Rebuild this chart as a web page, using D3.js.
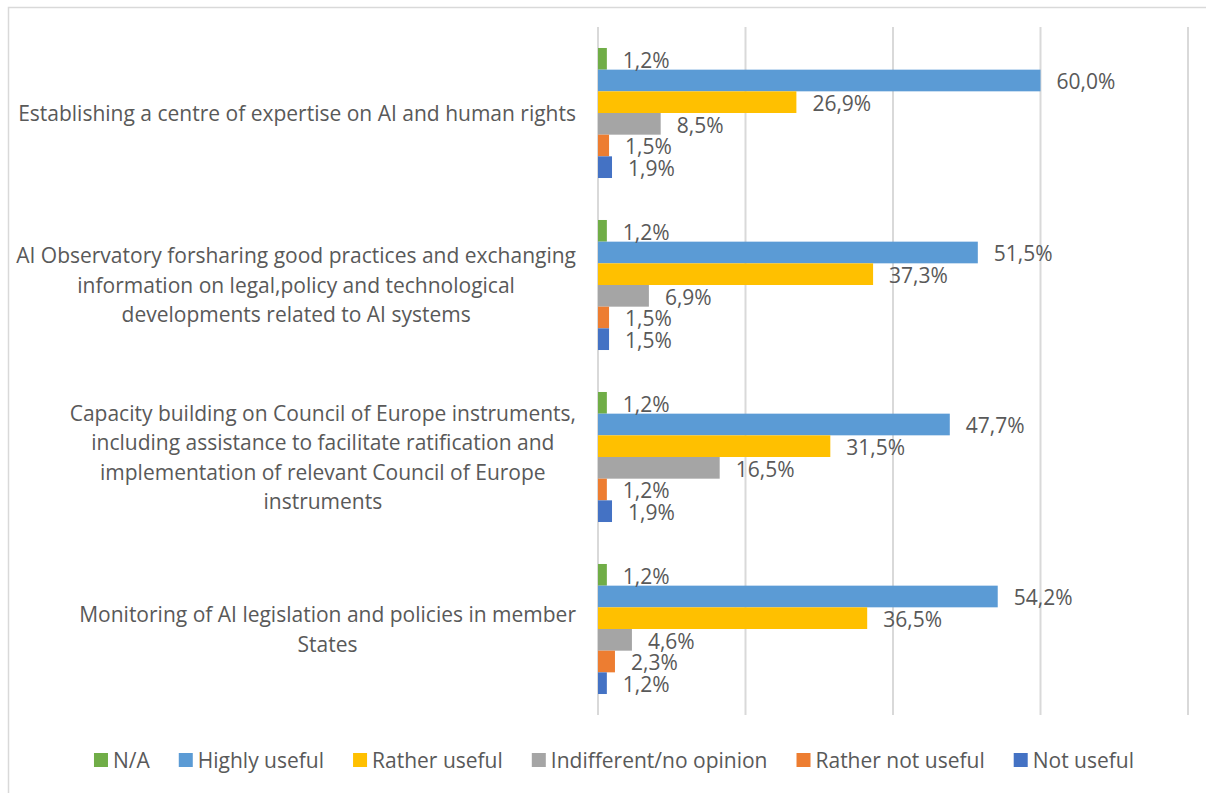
<!DOCTYPE html>
<html>
<head>
<meta charset="utf-8">
<script src="https://cdn.jsdelivr.net/npm/d3@7"></script>
<style>
  html, body { margin: 0; padding: 0; background: #fff; }
  svg { display: block; font-family: "Open Sans", sans-serif; }
</style>
</head>
<body>
<svg id="chart" width="1206" height="793"></svg>
<script>
// Survey categories (top to bottom), each label split into its display lines
const categories = [
  "Establishing a centre of expertise on AI and human rights",
  "AI Observatory forsharing good practices and exchanging information on legal,policy and technological developments related to AI systems",
  "Capacity building on Council of Europe instruments, including assistance to facilitate ratification and implementation of relevant Council of Europe instruments",
  "Monitoring of AI legislation and policies in member States"
];
const categoryLines = [
  ["Establishing a centre of expertise on AI and human rights"],
  ["AI Observatory forsharing good practices and exchanging",
   "information on legal,policy and technological",
   "developments related to AI systems"],
  ["Capacity building on Council of Europe instruments,",
   "including assistance to facilitate ratification and",
   "implementation of relevant Council of Europe",
   "instruments"],
  ["Monitoring of AI legislation and policies in member",
   "States"]
];

// Answer options, in drawing order within each group
const seriesNames = ["N/A", "Highly useful", "Rather useful", "Indifferent/no opinion", "Rather not useful", "Not useful"];
const seriesColors = ["#70AD47", "#5B9BD5", "#FFC000", "#A5A5A5", "#ED7D31", "#4472C4"];

// Share of responses (%) per series, one value per category
const naValues            = [1.2, 1.2, 1.2, 1.2];
const highlyUsefulValues  = [60.0, 51.5, 47.7, 54.2];
const ratherUsefulValues  = [26.9, 37.3, 31.5, 36.5];
const indifferentValues   = [8.5, 6.9, 16.5, 4.6];
const ratherNotValues     = [1.5, 1.5, 1.2, 2.3];
const notUsefulValues     = [1.9, 1.5, 1.9, 1.2];

// Gridline positions on the value axis
const gridTicks = [0, 20, 40, 60, 80];

const seriesValues = [naValues, highlyUsefulValues, ratherUsefulValues, indifferentValues, ratherNotValues, notUsefulValues];

const svg = d3.select("#chart");
const textColor = "#595959";
const fontSize = 21;

// Outer chart frame
svg.append("rect")
  .attr("x", 8.5).attr("y", 7.5)
  .attr("width", 1230).attr("height", 820)
  .attr("fill", "#fff")
  .attr("stroke", "#D9D9D9").attr("stroke-width", 1.5);

const x = d3.scaleLinear().domain([0, 80]).range([598, 1188]);
const y = d3.scaleBand().domain(categories).range([27, 715]).paddingInner(0.244).paddingOuter(0.122);
const ySub = d3.scaleBand().domain(seriesNames).range([0, y.bandwidth()]);

// Vertical gridlines
svg.append("g")
  .selectAll("line")
  .data(gridTicks)
  .join("line")
  .attr("x1", d => x(d)).attr("x2", d => x(d))
  .attr("y1", 27).attr("y2", 715)
  .attr("stroke", "#D9D9D9").attr("stroke-width", 2);

// Bars and value labels
const rows = [];
categories.forEach((c, ci) => {
  seriesNames.forEach((s, si) => {
    rows.push({ cat: c, series: s, color: seriesColors[si], value: seriesValues[si][ci] });
  });
});

const fmt = v => d3.format(".1f")(v).replace(".", ",") + "%";

svg.append("g")
  .selectAll("rect")
  .data(rows)
  .join("rect")
  .attr("x", x(0))
  .attr("y", d => y(d.cat) + ySub(d.series))
  .attr("width", d => x(d.value) - x(0))
  .attr("height", ySub.bandwidth())
  .attr("fill", d => d.color);

svg.append("g")
  .selectAll("text")
  .data(rows)
  .join("text")
  .attr("x", d => x(d.value) + 16)
  .attr("y", d => y(d.cat) + ySub(d.series) + ySub.bandwidth() / 2)
  .attr("dy", "0.42em")
  .attr("font-size", fontSize)
  .attr("fill", textColor)
  .text(d => fmt(d.value));

// Category labels: centred block of lines, right-aligned to the axis
const labelRight = 576;
const lineHeight = 29.5;
const labelG = svg.append("g");
categories.forEach((c, ci) => {
  const lines = categoryLines[ci];
  const g = labelG.append("g");
  const cy = y(c) + y.bandwidth() / 2;
  const texts = g.selectAll("text")
    .data(lines)
    .join("text")
    .attr("y", (d, i) => cy + (i - (lines.length - 1) / 2) * lineHeight)
    .attr("dy", "0.38em")
    .attr("text-anchor", "middle")
    .attr("font-size", fontSize)
    .attr("fill", textColor)
    .text(d => d);
  let maxW = 0;
  texts.each(function () { maxW = Math.max(maxW, this.getComputedTextLength()); });
  texts.attr("x", labelRight - maxW / 2);
});

// Legend, centred below the plot
const legend = svg.append("g");
const gap = 29;
let cursor = 0;
seriesNames.forEach((s, i) => {
  const item = legend.append("g");
  item.append("rect")
    .attr("x", 0).attr("y", -7)
    .attr("width", 14).attr("height", 14)
    .attr("fill", seriesColors[i]);
  const t = item.append("text")
    .attr("x", 19).attr("y", 0).attr("dy", "0.38em")
    .attr("font-size", fontSize)
    .attr("fill", textColor)
    .text(s);
  item.attr("transform", `translate(${cursor},0)`);
  cursor += 19 + t.node().getComputedTextLength() + gap;
});
const totalW = cursor - gap;
legend.attr("transform", `translate(${614 - totalW / 2},760)`);
</script>
</body>
</html>
